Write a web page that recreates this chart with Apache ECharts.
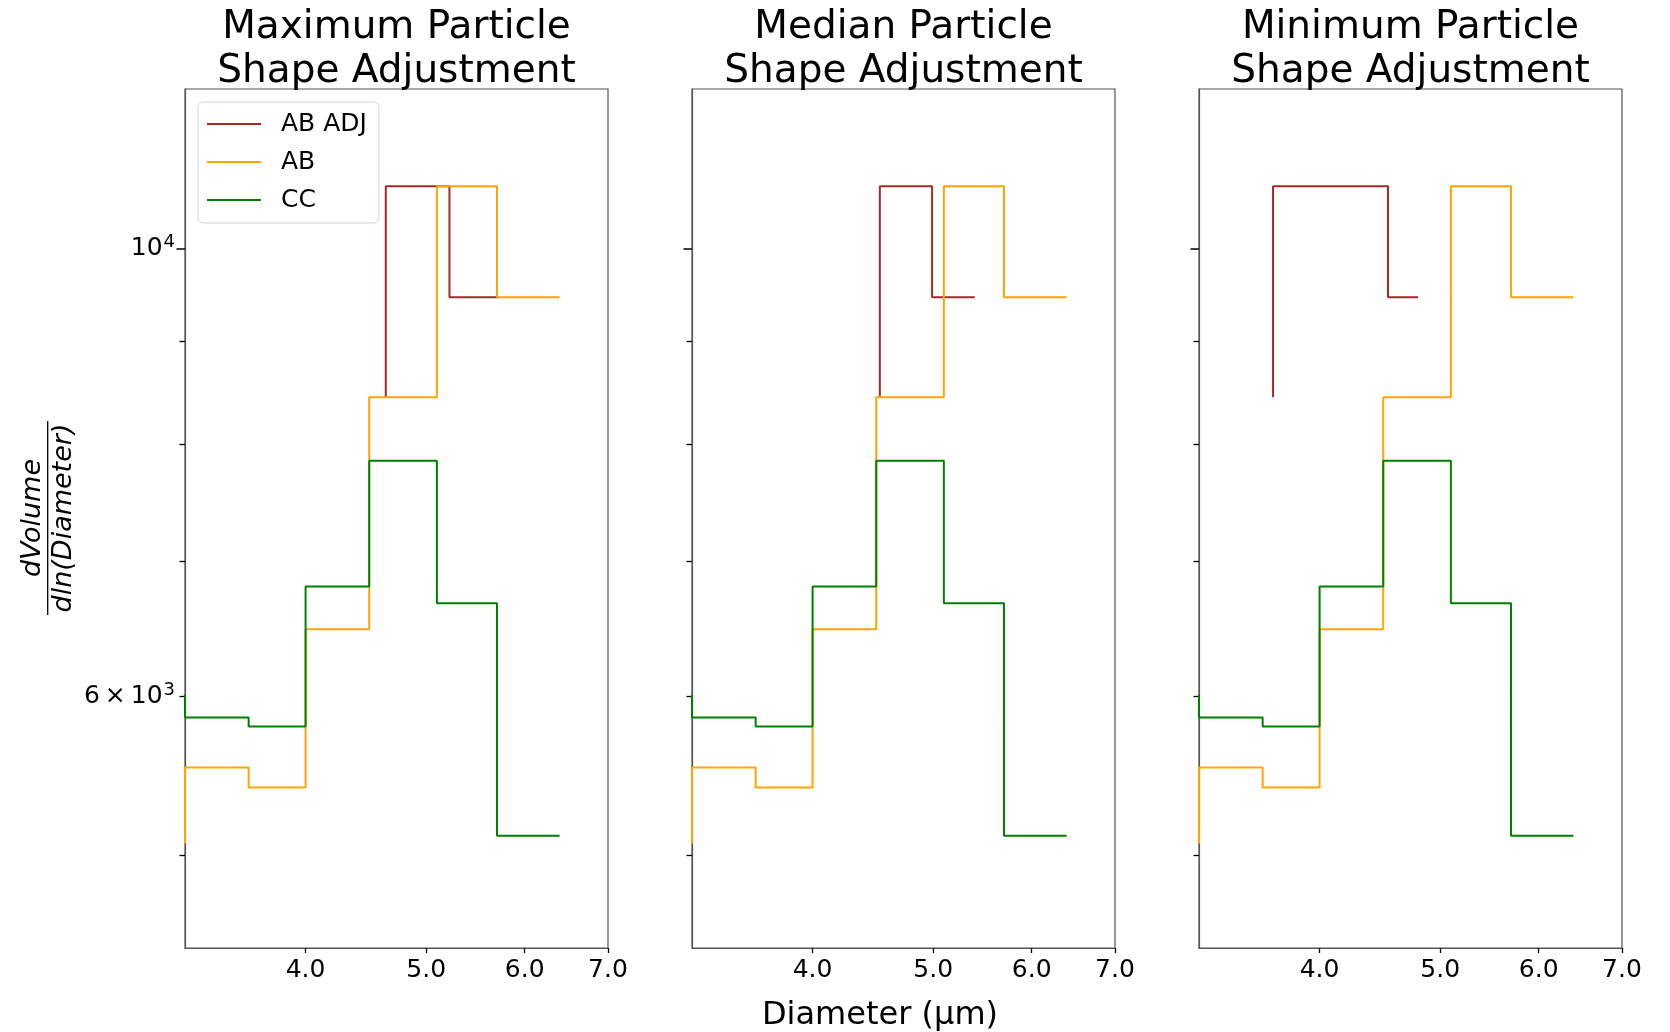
<!DOCTYPE html>
<html>
<head>
<meta charset="utf-8">
<title>Particle Shape Adjustment</title>
<script src="https://cdn.jsdelivr.net/npm/echarts@6/dist/echarts.min.js"></script>
<style>
  html, body { margin: 0; padding: 0; background: #fff; }
  #main { width: 1670px; height: 1032px; }
</style>
</head>
<body>
<div id="main"></div>
<script>
// step edges (um) and values, same AB / CC curves in every panel
var diameters = [3.2, 3.6, 4.0, 4.5, 5.1, 5.7, 6.4];
var abValues = [5070, 5530, 5405, 6475, 8440, 10740, 9460];
var ccValues = [6010, 5855, 5795, 6800, 7850, 6670, 5115];
// AB ADJ: shifted edges per panel
var adjDiameters = [
    [4.64, 5.22, 5.72],
    [4.53, 4.99, 5.40],
    [3.67, 4.54, 4.80]
];
var adjValues = [8440, 10740, 9460];
var panelTitles = [
    'Maximum Particle\nShape Adjustment',
    'Median Particle\nShape Adjustment',
    'Minimum Particle\nShape Adjustment'
];
var xTickValues = [4, 5, 6, 7];
var yMajorTicks = [10000];
var yMinorTicks = [5000, 6000, 7000, 8000, 9000];
var yLabelValues = [6000, 10000];

var FONT = 'DejaVu Sans';
var panelLeft = [185, 692, 1199];
var panelTop = 89, panelW = 423, panelH = 859;

function pairs(xs, ys) {
    return xs.map(function (x, i) { return [x, ys[i]]; });
}

var grids = [], xAxes = [], yAxes = [], series = [], graphics = [];

for (var p = 0; p < 3; p++) {
    grids.push({
        left: panelLeft[p], top: panelTop, width: panelW, height: panelH,
        show: true, borderColor: '#555', borderWidth: 1.2, backgroundColor: '#fff'
    });
    xAxes.push({
        type: 'log', logBase: 10, gridIndex: p, min: 3.2, max: 7,
        axisLine: { show: true, lineStyle: { color: '#555', width: 1.2 } },
        axisTick: { show: true, customValues: xTickValues, length: 5, lineStyle: { color: '#000', width: 1.3 } },
        axisLabel: {
            customValues: xTickValues, margin: 10,
            fontFamily: FONT, fontSize: 25, color: '#000',
            formatter: function (v) { return (+v).toFixed(1); }
        },
        splitLine: { show: false }, minorTick: { show: false }
    });
    // major ticks + labels
    yAxes.push({
        type: 'log', logBase: 10, gridIndex: p, min: 4500, max: 12000, position: 'left',
        axisLine: { show: true, lineStyle: { color: '#555', width: 1.2 } },
        axisTick: { show: true, customValues: yMajorTicks, length: 8.5, lineStyle: { color: '#000', width: 1.5 } },
        axisLabel: {
            show: p === 0, customValues: yLabelValues, margin: 10, color: '#000',
            formatter: function (v) {
                v = Math.round(+v);
                if (v === 10000) return '{b|10}{s|4}';
                return '{b|6\u2009\u00d7\u200910}{s|3}';
            },
            rich: {
                b: { fontFamily: FONT, fontSize: 25, lineHeight: 30, color: '#000' },
                s: { fontFamily: FONT, fontSize: 18, lineHeight: 18, verticalAlign: 'top', color: '#000', padding: [0, 0, 0, 1] }
            }
        },
        splitLine: { show: false }
    });
    // minor ticks
    yAxes.push({
        type: 'log', logBase: 10, gridIndex: p, min: 4500, max: 12000, position: 'left', offset: 0,
        axisLine: { show: false },
        axisTick: { show: true, customValues: yMinorTicks, length: 5.5, lineStyle: { color: '#000', width: 1.3 } },
        axisLabel: { show: false },
        splitLine: { show: false }
    });

    var common = {
        type: 'line', step: 'start', xAxisIndex: p, yAxisIndex: 2 * p,
        symbol: 'none', showSymbol: false, animation: false
    };
    series.push(Object.assign({}, common, {
        name: 'AB ADJ', data: pairs(adjDiameters[p], adjValues),
        color: '#a52a2a', lineStyle: { color: '#a52a2a', width: 2 }
    }));
    series.push(Object.assign({}, common, {
        name: 'AB', data: pairs(diameters, abValues),
        color: '#ffa500', lineStyle: { color: '#ffa500', width: 2 }
    }));
    series.push(Object.assign({}, common, {
        name: 'CC', data: pairs(diameters, ccValues),
        color: '#008000', lineStyle: { color: '#008000', width: 2 }
    }));

    graphics.push({
        type: 'text', x: panelLeft[p] + panelW / 2, y: 6,
        style: {
            text: panelTitles[p], font: '39px "DejaVu Sans"', fill: '#000',
            textAlign: 'center', align: 'center', textVerticalAlign: 'top', verticalAlign: 'top',
            lineHeight: 44
        }
    });
}

// shared x title
graphics.push({
    type: 'text', x: 880, y: 1016,
    style: {
        text: 'Diameter (\u00b5m)', font: '32px "DejaVu Sans"', fill: '#000',
        textAlign: 'center', align: 'center', textVerticalAlign: 'middle', verticalAlign: 'middle'
    }
});
// y title as a fraction, rotated
graphics.push({
    type: 'group', x: 47.7, y: 518, rotation: Math.PI / 2,
    children: [
        { type: 'text', x: 0, y: -1, style: { text: 'dVolume', font: 'italic 27px "DejaVu Sans"', fill: '#000',
            textAlign: 'center', align: 'center', textVerticalAlign: 'bottom', verticalAlign: 'bottom' } },
        { type: 'line', shape: { x1: -97, y1: 0, x2: 97, y2: 0 }, style: { stroke: '#000', lineWidth: 1.3 } },
        { type: 'text', x: 0, y: 3, style: { text: 'dln(Diameter)', font: 'italic 27px "DejaVu Sans"', fill: '#000',
            textAlign: 'center', align: 'center', textVerticalAlign: 'top', verticalAlign: 'top' } }
    ]
});

var chart = echarts.init(document.getElementById('main'));
chart.setOption({
    animation: false,
    backgroundColor: '#fff',
    grid: grids,
    xAxis: xAxes,
    yAxis: yAxes,
    legend: {
        data: ['AB ADJ', 'AB', 'CC'],
        orient: 'vertical', left: 198, top: 102,
        icon: 'rect', itemWidth: 54, itemHeight: 2, itemGap: 10,
        padding: [8, 12, 9, 9],
        borderColor: '#d5d5d5', borderWidth: 1, borderRadius: 5,
        backgroundColor: 'rgba(255,255,255,0.8)',
        textStyle: { fontFamily: FONT, fontSize: 25, color: '#000', lineHeight: 28, padding: [0, 0, 0, 15] }
    },
    series: series,
    graphic: graphics
});
</script>
</body>
</html>
